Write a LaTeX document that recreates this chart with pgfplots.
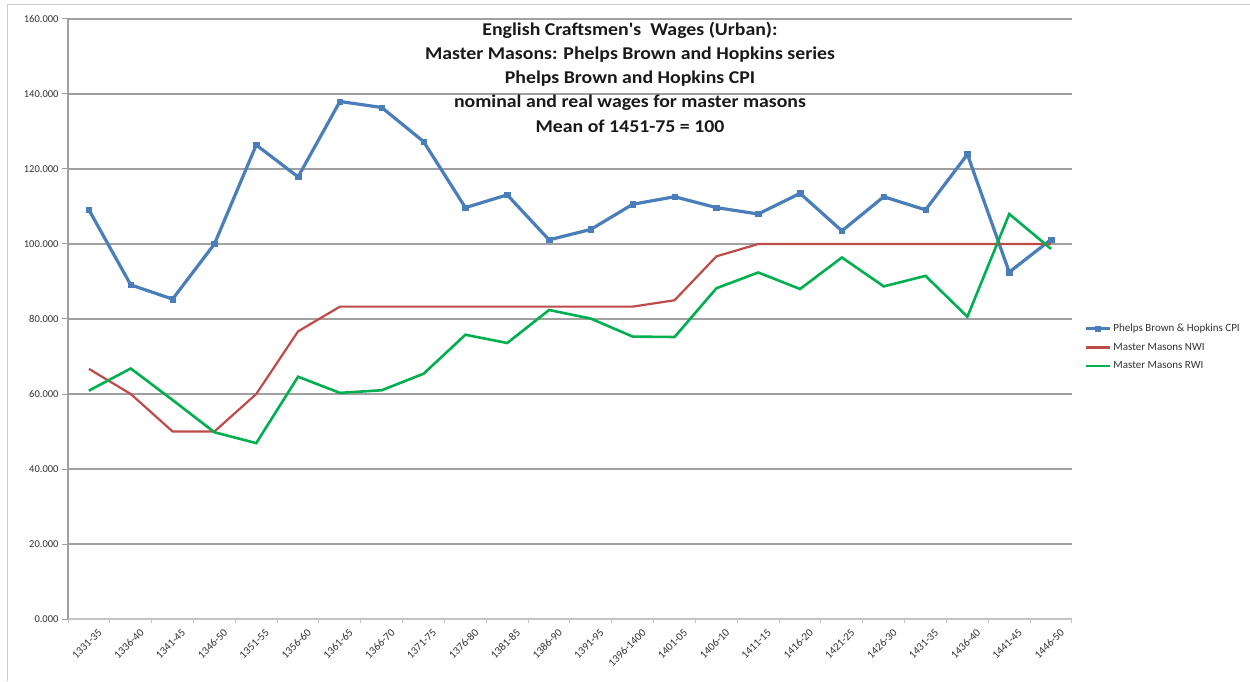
\documentclass[border=0pt]{standalone}
\usepackage{pgfplots}
\pgfplotsset{compat=1.18}
\usepackage{pgfplotstable}
\usepackage{fontspec}
\setmainfont{Carlito}
\definecolor{cpiblue}{RGB}{74,126,187}
\definecolor{nwired}{RGB}{190,75,72}
\definecolor{rwigreen}{RGB}{0,176,80}
\definecolor{gridgray}{RGB}{160,160,160}
\definecolor{axisgray}{RGB}{195,195,195}
\definecolor{txtgray}{RGB}{50,50,50}
\pgfplotstableread{
x cpi nwi rwi
0 109.1 66.7 60.9
1 89.1 60.0 66.8
2 85.3 50.0 58.4
3 100.0 50.0 49.8
4 126.4 60.0 46.9
5 117.9 76.7 64.6
6 138.0 83.3 60.3
7 136.4 83.3 61.0
8 127.3 83.3 65.4
9 109.7 83.3 75.8
10 113.1 83.3 73.6
11 101.1 83.3 82.4
12 103.9 83.3 80.1
13 110.6 83.3 75.3
14 112.6 85.0 75.2
15 109.7 96.7 88.2
16 108.0 100.0 92.4
17 113.5 100.0 88.0
18 103.5 100.0 96.4
19 112.6 100.0 88.7
20 109.1 100.0 91.5
21 123.9 100.0 80.6
22 92.5 100.0 108.0
23 101.2 100.0 98.7
}\wagedata
\begin{document}
\begin{tikzpicture}[x=1pt,y=1pt]
\useasboundingbox (0,0) rectangle (1250,681);
\draw[gray!40, line width=1pt] (7,0) -- (7,676) -- (1250,676);
\begin{axis}[
  at={(68pt,62pt)}, anchor=south west,
  scale only axis, width=1004pt, height=600pt,
  xmin=-0.5, xmax=23.5, ymin=0, ymax=160,
  ytick={0,20,...,160},
  ymajorgrids, grid style={gridgray, line width=1.4pt},
  axis x line*=bottom, axis y line*=left,
  x axis line style={axisgray, line width=1.2pt},
  y axis line style={gridgray, line width=1.2pt},
  xtick={0,...,23},
  xticklabels={1331-35,1336-40,1341-45,1346-50,1351-55,1356-60,1361-65,1366-70,1371-75,1376-80,1381-85,1386-90,1391-95,1396-1400,1401-05,1406-10,1411-15,1416-20,1421-25,1426-30,1431-35,1436-40,1441-45,1446-50},
  major x tick style={draw=none},
  minor xtick={-0.5,0.5,...,23.5},
  minor x tick style={axisgray, line width=1pt},
  major y tick style={gridgray, line width=1pt},
  tick align=outside, major tick length=6pt, minor tick length=4pt,
  xticklabel style={rotate=45, anchor=north east, font=\fontsize{11}{12}\selectfont, text=txtgray, inner sep=0pt, xshift=4pt, yshift=-8pt},
  yticklabel style={font=\fontsize{10.5}{12}\selectfont, text=txtgray, /pgf/number format/.cd, fixed, fixed zerofill, precision=3, 1000 sep={}},
  /pgf/number format/assume math mode=true,
  legend style={at={(1.012,0.453)}, anchor=west, draw=none, fill=none, font=\fontsize{11}{13}\selectfont, text=txtgray, row sep=6pt, inner sep=0pt},
  legend cell align=left,
  legend image code/.code={\draw[mark repeat=2,mark phase=2,#1] plot coordinates {(0pt,0pt)(12pt,0pt)(24pt,0pt)};},
]
\addplot[cpiblue, line width=3.2pt, mark=square*, mark size=2.7pt, mark options={line width=0.5pt}] table[x=x,y=cpi] {\wagedata};
\addlegendentry{Phelps Brown \& Hopkins CPI}
\addplot[nwired, line width=2.2pt] table[x=x,y=nwi] {\wagedata};
\addlegendentry{Master Masons NWI}
\addplot[rwigreen, line width=2.6pt] table[x=x,y=rwi] {\wagedata};
\addlegendentry{Master Masons RWI}
\end{axis}
\node[align=center, font=\bfseries\fontsize{18}{24.3}\selectfont, text=black!90, xscale=1.1, transform shape] at (630,604) {English Craftsmen\textquotesingle s\ \ Wages (Urban):\\Master Masons: Phelps Brown and Hopkins series\\Phelps Brown and Hopkins CPI\\nominal and real wages for master masons\\Mean of 1451-75 = 100};
\end{tikzpicture}
\end{document}
